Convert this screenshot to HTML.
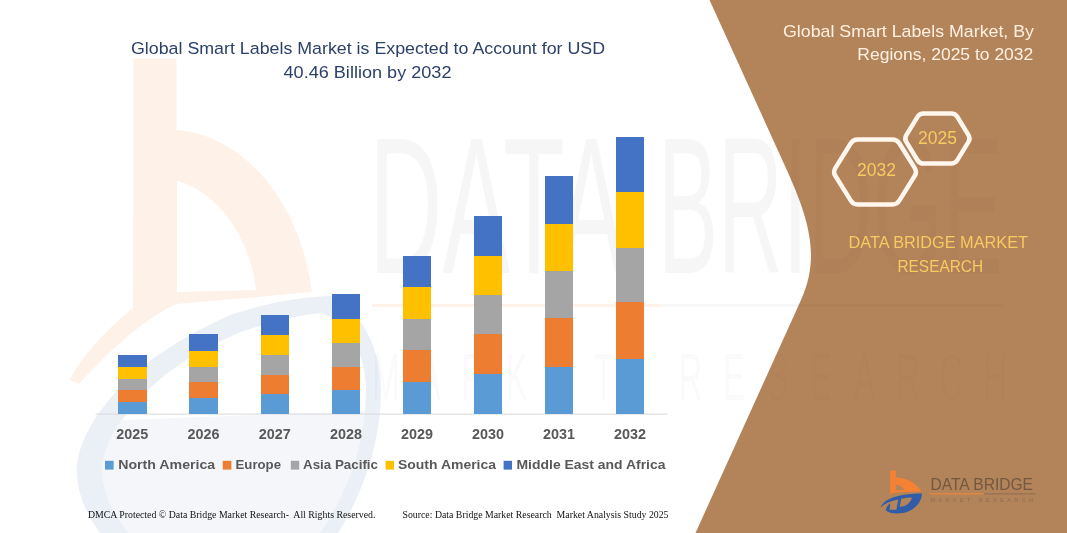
<!DOCTYPE html>
<html>
<head>
<meta charset="utf-8">
<title>Global Smart Labels Market</title>
<style>
html,body{margin:0;padding:0;background:#fff;}
body{width:1067px;height:533px;overflow:hidden;position:relative;font-family:"Liberation Sans",sans-serif;}
svg{position:absolute;left:0;top:0;display:block;}
text{font-family:"Liberation Sans",sans-serif;filter:url(#noop);}
.serif{font-family:"Liberation Serif",serif;}
</style>
</head>
<body>
<svg width="1067" height="533" viewBox="0 0 1067 533">
  <rect x="0" y="0" width="1067" height="533" fill="#ffffff"/>
  <defs>
    <filter id="noop" x="-5%" y="-50%" width="110%" height="200%"><feOffset dx="0" dy="0"/></filter>
    <clipPath id="panelclip"><path d="M709.5,0 L785,166 C808.7,218 820.9,256 801,300 L695.5,533 L1067,533 L1067,0 Z"/></clipPath>
    </defs>

  <!-- faint watermark logo (left) -->
  <g id="wm-logo">
    <path d="M133.5,58.5 L176.5,58.5 L176.5,130 C235,134 298,190 312,292 L177,304 C151,315 117,342 79,384 L70,380 C78,362 100,335 133,308 Z M177,181 C215,190 250,235 256,290 L177,292 Z" fill="#F58233" fill-opacity="0.115" fill-rule="evenodd"/>
    <path d="M100,533 C85,512 77,492 77,470 C77,440 100,408 124,383 C150,358 185,335 230,315 C265,303 300,297 330,296 C362,310 381,350 381,390 C381,440 365,490 338,533 Z M123,420 C128,411 135,403 142,396 C165,372 195,352 236,334 C268,322 298,315 322,313 C350,326 366,355 366,390 C366,397 365.7,404 365,411 Z" fill="#2E5CA8" fill-opacity="0.055" fill-rule="evenodd"/>
    <path d="M100,533 C85,512 77,492 77,470 C77,440 100,408 124,383 C150,358 185,335 230,315 C265,303 300,297 330,296 C362,310 381,350 381,390 C381,440 365,490 338,533 L320,533 C350,490 366,440 366,390 C366,355 350,326 322,313 C298,315 268,322 236,334 C195,352 165,372 142,396 C120,418 102,445 102,470 C102,492 112,512 128,533 Z" fill="#2E5CA8" fill-opacity="0.045"/>
  </g>

  <!-- faint watermark text -->
  <g id="wm-text">
    <g fill="#000" fill-opacity="0.034">
      <text x="369" y="272.6" font-size="195.5" textLength="256" lengthAdjust="spacingAndGlyphs">DATA</text>
      <text x="658" y="272.6" font-size="195.5" textLength="345" lengthAdjust="spacingAndGlyphs">BRIDGE</text>
      <g opacity="0.6">
        <text transform="translate(386.0,399.5) scale(0.5,1)" text-anchor="middle" font-size="66">M</text>
        <text transform="translate(429.5,399.5) scale(0.5,1)" text-anchor="middle" font-size="66">A</text>
        <text transform="translate(473.0,399.5) scale(0.5,1)" text-anchor="middle" font-size="66">R</text>
        <text transform="translate(516.5,399.5) scale(0.5,1)" text-anchor="middle" font-size="66">K</text>
        <text transform="translate(560.0,399.5) scale(0.5,1)" text-anchor="middle" font-size="66">E</text>
        <text transform="translate(603.5,399.5) scale(0.5,1)" text-anchor="middle" font-size="66">T</text>
        <text transform="translate(690.5,399.5) scale(0.5,1)" text-anchor="middle" font-size="66">R</text>
        <text transform="translate(734.0,399.5) scale(0.5,1)" text-anchor="middle" font-size="66">E</text>
        <text transform="translate(777.5,399.5) scale(0.5,1)" text-anchor="middle" font-size="66">S</text>
        <text transform="translate(821.0,399.5) scale(0.5,1)" text-anchor="middle" font-size="66">E</text>
        <text transform="translate(864.5,399.5) scale(0.5,1)" text-anchor="middle" font-size="66">A</text>
        <text transform="translate(908.0,399.5) scale(0.5,1)" text-anchor="middle" font-size="66">R</text>
        <text transform="translate(951.5,399.5) scale(0.5,1)" text-anchor="middle" font-size="66">C</text>
        <text transform="translate(995.0,399.5) scale(0.5,1)" text-anchor="middle" font-size="66">H</text>
      </g>
    </g>
    <rect x="372" y="304" width="288" height="3" fill="#F58233" fill-opacity="0.10"/>
    <rect x="660" y="304" width="150" height="3" fill="#000" fill-opacity="0.03"/>
  </g>

  <!-- brown panel -->
  <path id="panel" d="M709.5,0 L785,166 C808.7,218 820.9,256 801,300 L695.5,533 L1067,533 L1067,0 Z" fill="#B38359"/>
  <g clip-path="url(#panelclip)">
    <g fill="#000" fill-opacity="0.016">
      <text x="369" y="272.6" font-size="195.5" textLength="256" lengthAdjust="spacingAndGlyphs">DATA</text>
      <text x="658" y="272.6" font-size="195.5" textLength="345" lengthAdjust="spacingAndGlyphs">BRIDGE</text>
      <g opacity="0.6">
        <text transform="translate(386.0,399.5) scale(0.5,1)" text-anchor="middle" font-size="66">M</text>
        <text transform="translate(429.5,399.5) scale(0.5,1)" text-anchor="middle" font-size="66">A</text>
        <text transform="translate(473.0,399.5) scale(0.5,1)" text-anchor="middle" font-size="66">R</text>
        <text transform="translate(516.5,399.5) scale(0.5,1)" text-anchor="middle" font-size="66">K</text>
        <text transform="translate(560.0,399.5) scale(0.5,1)" text-anchor="middle" font-size="66">E</text>
        <text transform="translate(603.5,399.5) scale(0.5,1)" text-anchor="middle" font-size="66">T</text>
        <text transform="translate(690.5,399.5) scale(0.5,1)" text-anchor="middle" font-size="66">R</text>
        <text transform="translate(734.0,399.5) scale(0.5,1)" text-anchor="middle" font-size="66">E</text>
        <text transform="translate(777.5,399.5) scale(0.5,1)" text-anchor="middle" font-size="66">S</text>
        <text transform="translate(821.0,399.5) scale(0.5,1)" text-anchor="middle" font-size="66">E</text>
        <text transform="translate(864.5,399.5) scale(0.5,1)" text-anchor="middle" font-size="66">A</text>
        <text transform="translate(908.0,399.5) scale(0.5,1)" text-anchor="middle" font-size="66">R</text>
        <text transform="translate(951.5,399.5) scale(0.5,1)" text-anchor="middle" font-size="66">C</text>
        <text transform="translate(995.0,399.5) scale(0.5,1)" text-anchor="middle" font-size="66">H</text>
      </g>
    </g>
    <rect x="700" y="304" width="304" height="3" fill="#000" fill-opacity="0.02"/>
  </g>


  <!-- axis -->
  <rect x="95.5" y="413.6" width="572" height="1" fill="#D9D9D9"/>

  <!-- bars -->
  <g id="bars" shape-rendering="crispEdges">
    <!-- 2025 -->
    <rect x="118" y="354.7" width="28.8" height="11.9" fill="#4472C4"/>
    <rect x="118" y="366.6" width="28.8" height="12.1" fill="#FFC000"/>
    <rect x="118" y="378.7" width="28.8" height="11.1" fill="#A5A5A5"/>
    <rect x="118" y="389.8" width="28.8" height="11.9" fill="#ED7D31"/>
    <rect x="118" y="401.7" width="28.8" height="12" fill="#5B9BD5"/>
    <!-- 2026 -->
    <rect x="189.2" y="334.4" width="28.8" height="16.3" fill="#4472C4"/>
    <rect x="189.2" y="350.7" width="28.8" height="16.4" fill="#FFC000"/>
    <rect x="189.2" y="367.1" width="28.8" height="14.7" fill="#A5A5A5"/>
    <rect x="189.2" y="381.8" width="28.8" height="15.9" fill="#ED7D31"/>
    <rect x="189.2" y="397.7" width="28.8" height="16" fill="#5B9BD5"/>
    <!-- 2027 -->
    <rect x="260.6" y="314.5" width="28.6" height="20.2" fill="#4472C4"/>
    <rect x="260.6" y="334.7" width="28.6" height="20.3" fill="#FFC000"/>
    <rect x="260.6" y="355" width="28.6" height="19.5" fill="#A5A5A5"/>
    <rect x="260.6" y="374.5" width="28.6" height="19.5" fill="#ED7D31"/>
    <rect x="260.6" y="394" width="28.6" height="19.7" fill="#5B9BD5"/>
    <!-- 2028 -->
    <rect x="331.8" y="294.2" width="28.4" height="24.4" fill="#4472C4"/>
    <rect x="331.8" y="318.6" width="28.4" height="24.4" fill="#FFC000"/>
    <rect x="331.8" y="343" width="28.4" height="23.6" fill="#A5A5A5"/>
    <rect x="331.8" y="366.6" width="28.4" height="23.3" fill="#ED7D31"/>
    <rect x="331.8" y="389.9" width="28.4" height="23.8" fill="#5B9BD5"/>
    <!-- 2029 -->
    <rect x="402.9" y="255.9" width="28.2" height="30.6" fill="#4472C4"/>
    <rect x="402.9" y="286.5" width="28.2" height="32.6" fill="#FFC000"/>
    <rect x="402.9" y="319.1" width="28.2" height="31.2" fill="#A5A5A5"/>
    <rect x="402.9" y="350.3" width="28.2" height="31.2" fill="#ED7D31"/>
    <rect x="402.9" y="381.5" width="28.2" height="32.2" fill="#5B9BD5"/>
    <!-- 2030 -->
    <rect x="474" y="215.8" width="28.2" height="40.3" fill="#4472C4"/>
    <rect x="474" y="256.1" width="28.2" height="38.9" fill="#FFC000"/>
    <rect x="474" y="295" width="28.2" height="39.2" fill="#A5A5A5"/>
    <rect x="474" y="334.2" width="28.2" height="40.1" fill="#ED7D31"/>
    <rect x="474" y="374.3" width="28.2" height="39.4" fill="#5B9BD5"/>
    <!-- 2031 -->
    <rect x="545" y="176.2" width="28" height="47.6" fill="#4472C4"/>
    <rect x="545" y="223.8" width="28" height="47.4" fill="#FFC000"/>
    <rect x="545" y="271.2" width="28" height="47.1" fill="#A5A5A5"/>
    <rect x="545" y="318.3" width="28" height="48.2" fill="#ED7D31"/>
    <rect x="545" y="366.5" width="28" height="47.2" fill="#5B9BD5"/>
    <!-- 2032 -->
    <rect x="616" y="136.7" width="28" height="54.9" fill="#4472C4"/>
    <rect x="616" y="191.6" width="28" height="56.2" fill="#FFC000"/>
    <rect x="616" y="247.8" width="28" height="54.6" fill="#A5A5A5"/>
    <rect x="616" y="302.4" width="28" height="56.5" fill="#ED7D31"/>
    <rect x="616" y="358.9" width="28" height="54.8" fill="#5B9BD5"/>
  </g>

  <!-- chart title -->
  <g fill="#2C4169" font-size="17.1">
    <text x="131" y="54.4" textLength="474" lengthAdjust="spacingAndGlyphs">Global Smart Labels Market is Expected to Account for USD</text>
    <text x="283.5" y="78" textLength="168" lengthAdjust="spacingAndGlyphs">40.46 Billion by 2032</text>
  </g>

  <!-- year labels -->
  <g fill="#595959" font-size="13.8" font-weight="bold" text-anchor="middle">
    <text x="132.2" y="438.8" textLength="32" lengthAdjust="spacingAndGlyphs">2025</text>
    <text x="203.5" y="438.8" textLength="32" lengthAdjust="spacingAndGlyphs">2026</text>
    <text x="274.8" y="438.8" textLength="32" lengthAdjust="spacingAndGlyphs">2027</text>
    <text x="346" y="438.8" textLength="32" lengthAdjust="spacingAndGlyphs">2028</text>
    <text x="417" y="438.8" textLength="32" lengthAdjust="spacingAndGlyphs">2029</text>
    <text x="488" y="438.8" textLength="32" lengthAdjust="spacingAndGlyphs">2030</text>
    <text x="559" y="438.8" textLength="32" lengthAdjust="spacingAndGlyphs">2031</text>
    <text x="630" y="438.8" textLength="32" lengthAdjust="spacingAndGlyphs">2032</text>
  </g>

  <!-- legend -->
  <g>
    <rect x="105" y="460.8" width="8.6" height="8.8" fill="#5B9BD5"/>
    <rect x="222.8" y="460.8" width="8.6" height="8.8" fill="#ED7D31"/>
    <rect x="290.8" y="460.8" width="8.4" height="8.8" fill="#A5A5A5"/>
    <rect x="385.6" y="460.8" width="8.4" height="8.8" fill="#FFC000"/>
    <rect x="503.6" y="460.8" width="8.4" height="8.8" fill="#4472C4"/>
    <g fill="#595959" font-size="13.6" font-weight="bold">
      <text x="118.2" y="468.7" textLength="97" lengthAdjust="spacingAndGlyphs">North America</text>
      <text x="235.5" y="468.7" textLength="45.5" lengthAdjust="spacingAndGlyphs">Europe</text>
      <text x="303" y="468.7" textLength="75" lengthAdjust="spacingAndGlyphs">Asia Pacific</text>
      <text x="398" y="468.7" textLength="98" lengthAdjust="spacingAndGlyphs">South America</text>
      <text x="516.5" y="468.7" textLength="149" lengthAdjust="spacingAndGlyphs">Middle East and Africa</text>
    </g>
  </g>

  <!-- footer -->
  <g class="serif" fill="#111" font-size="10" style="font-family:'Liberation Serif',serif">
    <text x="87.9" y="517.7" textLength="287.5" lengthAdjust="spacingAndGlyphs" style="font-family:'Liberation Serif',serif" xml:space="preserve">DMCA Protected © Data Bridge Market Research-  All Rights Reserved.</text>
    <text x="402.5" y="517.7" textLength="266" lengthAdjust="spacingAndGlyphs" style="font-family:'Liberation Serif',serif" xml:space="preserve">Source: Data Bridge Market Research  Market Analysis Study 2025</text>
  </g>

  <!-- right panel title -->
  <g fill="#FFF1E2" font-size="17">
    <text x="783" y="36.6" textLength="251" lengthAdjust="spacingAndGlyphs">Global Smart Labels Market, By</text>
    <text x="857.3" y="60.3" textLength="176" lengthAdjust="spacingAndGlyphs">Regions, 2025 to 2032</text>
  </g>

  <!-- hexagons -->
  <g fill="none" stroke="#FFF6EE" stroke-width="4.5" stroke-linejoin="round">
    <path d="M835.3,175.8 Q832.9,171.9 835.3,168.1 L850.8,143.3 Q853.1,139.4 857.6,139.4 L892.4,139.4 Q896.9,139.4 899.3,143.3 L914.8,168.1 Q917.1,171.9 914.8,175.8 L899.3,200.6 Q896.9,204.4 892.4,204.4 L857.6,204.4 Q853.1,204.4 850.8,200.6 Z"/>
    <path d="M906.3,141.9 Q904.2,138.5 906.3,135.1 L917.5,116.8 Q919.6,113.4 923.6,113.4 L951.2,113.4 Q955.2,113.4 957.3,116.8 L968.5,135.1 Q970.6,138.5 968.5,141.9 L957.3,160.2 Q955.2,163.6 951.2,163.6 L923.6,163.6 Q919.6,163.6 917.5,160.2 Z"/>
  </g>
  <g fill="#F7CA62" font-size="18.5">
    <text x="857" y="175.9" textLength="39" lengthAdjust="spacingAndGlyphs">2032</text>
    <text x="918" y="144.2" textLength="39" lengthAdjust="spacingAndGlyphs">2025</text>
  </g>

  <!-- DBMR -->
  <g fill="#F7CA62" font-size="17.3">
    <text x="848.5" y="247.9" textLength="179.5" lengthAdjust="spacingAndGlyphs">DATA BRIDGE MARKET</text>
    <text x="897.5" y="271.5" textLength="85.5" lengthAdjust="spacingAndGlyphs">RESEARCH</text>
  </g>

  <!-- logo bottom right -->
  <g id="logo">
    <path d="M890.2,470.4 L895.8,470.4 L895.8,477.6 C906,477.8 916.5,483 921.6,491.6 L905,492 L895.8,492.6 L890.2,494 Z M895.8,484.6 L895.8,490.2 L904.2,489.8 C902.5,486.8 899.5,485 895.8,484.6 Z" fill="#F58233" fill-rule="evenodd"/>
    <path d="M880.8,507.2 C884,499 898,493.8 922,493.6 C921.5,503 914,510.8 903,513 C896,514 889,513.6 885.8,510.2 C886.2,507.6 887.8,505.2 890.2,503.6 L889.8,509.8 L896.4,509.8 L898.2,499.6 C891,501 885,503.6 880.8,507.2 Z M901.2,498.8 L899.8,506.8 C905.5,507 910.5,503.2 912,497.6 C908.2,497.6 904.6,498 901.2,498.8 Z" fill="#2F5DAA" fill-rule="evenodd"/>
    <text x="930.5" y="490.4" font-size="16.5" fill="#5A4638" fill-opacity="0.72" textLength="102.5" lengthAdjust="spacingAndGlyphs">DATA BRIDGE</text>
    <rect x="929.5" y="493.3" width="54" height="1.1" fill="#EE8A3A"/>
    <rect x="984.5" y="493.3" width="51" height="1.1" fill="#7A6250" fill-opacity="0.6"/>
    <text x="930.5" y="502.2" font-size="5.4" fill="#6B5545" fill-opacity="0.5" textLength="102.5" lengthAdjust="spacing">MARKET RESEARCH</text>
  </g>
</svg>
</body>
</html>
